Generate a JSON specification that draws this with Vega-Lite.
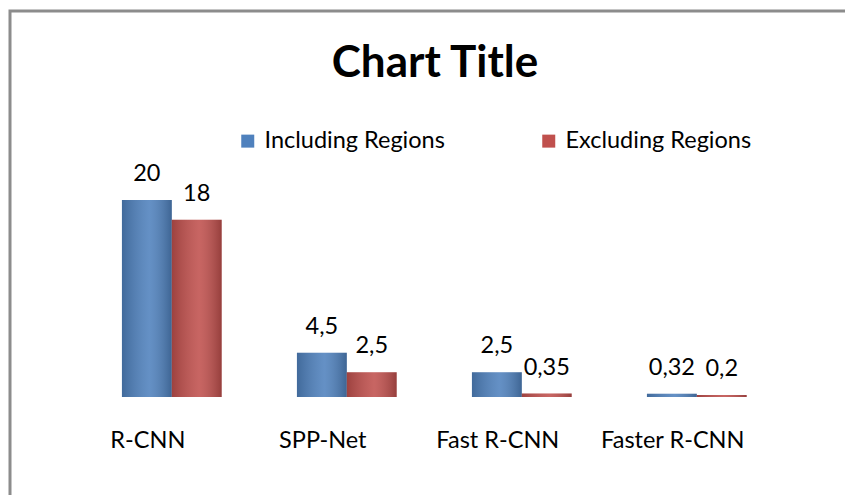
{
  "$schema": "https://vega.github.io/schema/vega-lite/v6.json",
  "width": 840,
  "height": 490,
  "autosize": {"type": "none"},
  "padding": {"left": 10, "top": 11, "right": 0, "bottom": 0},
  "background": "white",
  "title": {
    "text": "Chart Title",
    "font": "Lato",
    "fontSize": 44,
    "fontWeight": "bold",
    "color": "black",
    "anchor": "middle",
    "dx": 5,
    "offset": -119,
    "baseline": "bottom"
  },
  "config": {
    "view": {"stroke": "#8c8c8c", "strokeWidth": 3},
    "font": "Lato"
  },
  "data": {
    "values": [
      {"method": "R-CNN", "series": "Including Regions", "value": 20, "label": "20"},
      {"method": "R-CNN", "series": "Excluding Regions", "value": 18, "label": "18"},
      {"method": "SPP-Net", "series": "Including Regions", "value": 4.5, "label": "4,5"},
      {"method": "SPP-Net", "series": "Excluding Regions", "value": 2.5, "label": "2,5"},
      {"method": "Fast R-CNN", "series": "Including Regions", "value": 2.5, "label": "2,5"},
      {"method": "Fast R-CNN", "series": "Excluding Regions", "value": 0.35, "label": "0,35"},
      {"method": "Faster R-CNN", "series": "Including Regions", "value": 0.32, "label": "0,32"},
      {"method": "Faster R-CNN", "series": "Excluding Regions", "value": 0.2, "label": "0,2"}
    ]
  },
  "encoding": {
    "x": {
      "field": "method",
      "type": "nominal",
      "sort": ["R-CNN", "SPP-Net", "Fast R-CNN", "Faster R-CNN"],
      "scale": {"paddingInner": 0.43, "paddingOuter": 0.615, "align": 0.52},
      "axis": {
        "title": null,
        "orient": "bottom",
        "offset": -61,
        "domain": false,
        "ticks": false,
        "labelPadding": 0,
        "labelBaseline": "middle",
        "labelAngle": 0,
        "labelOffset": -24,
        "labelFont": "Lato",
        "labelFontSize": 23.5,
        "labelColor": "black"
      }
    },
    "xOffset": {
      "field": "series",
      "type": "nominal",
      "sort": ["Including Regions", "Excluding Regions"],
      "scale": {"paddingInner": 0, "paddingOuter": 0}
    },
    "y": {
      "field": "value",
      "type": "quantitative",
      "scale": {"domain": [-10.56, 39.19], "nice": false, "zero": false},
      "axis": null
    }
  },
  "layer": [
    {
      "mark": {"type": "bar"},
      "encoding": {
        "y2": {"datum": 0},
        "color": {
          "field": "series",
          "type": "nominal",
          "sort": ["Including Regions", "Excluding Regions"],
          "scale": {"domain": ["Including Regions", "Excluding Regions"], "range": ["#4F81BD", "#C0504D"]},
          "legend": {
            "title": null,
            "orient": "none",
            "legendX": 226,
            "legendY": 118,
            "direction": "horizontal",
            "symbolType": "square",
            "symbolSize": 169,
            "symbolStrokeWidth": 0,
            "symbolOpacity": 1,
            "labelFont": "Lato",
            "labelFontSize": 23.5,
            "labelColor": "black",
            "labelOffset": 5,
            "columnPadding": 92,
            "labelLimit": 300
          }
        }
      }
    },
    {
      "mark": {
        "type": "bar",
        "fill": {
          "gradient": "linear",
          "x1": 0, "y1": 0, "x2": 1, "y2": 0,
          "stops": [
            {"offset": 0, "color": "rgba(0,0,0,0.18)"},
            {"offset": 0.55, "color": "rgba(255,255,255,0.12)"},
            {"offset": 1, "color": "rgba(0,0,0,0.22)"}
          ]
        }
      },
      "encoding": {
        "y2": {"datum": 0}
      }
    },
    {
      "mark": {"type": "text", "baseline": "bottom", "dy": -14, "fontSize": 23.5, "font": "Lato", "color": "black"},
      "encoding": {
        "text": {"field": "label", "type": "nominal"}
      }
    }
  ]
}
